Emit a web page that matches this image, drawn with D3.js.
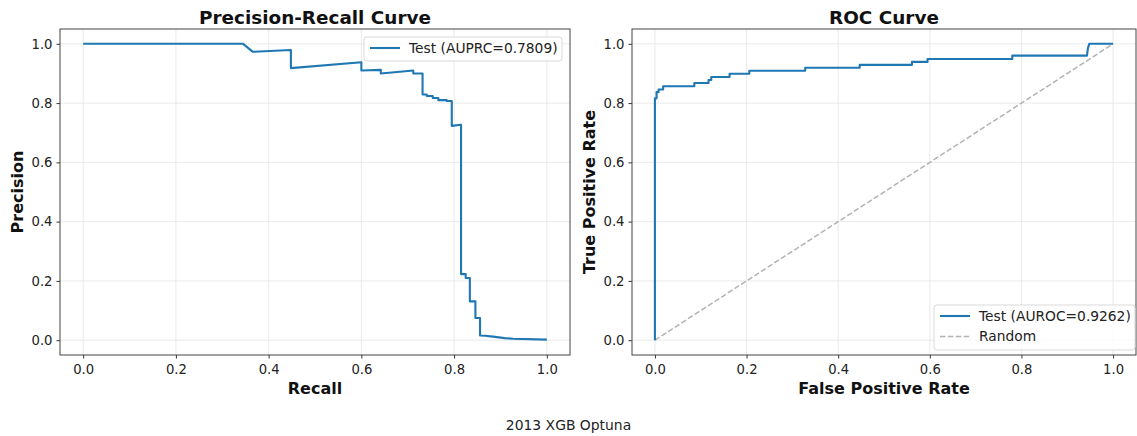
<!DOCTYPE html>
<html>
<head>
<meta charset="utf-8">
<script src="https://cdn.jsdelivr.net/npm/d3@7"></script>
<style>
  body { margin: 0; background: white; }
  svg { font-family: "DejaVu Sans", sans-serif; }
</style>
</head>
<body>
<div id="chart"></div>
<script>
// precision-recall curve points
const prRecall = [0, 0.345, 0.366, 0.448, 0.448, 0.600, 0.600, 0.642, 0.642, 0.712, 0.712, 0.732, 0.732,
  0.741, 0.741, 0.754, 0.754, 0.766, 0.766, 0.784, 0.784, 0.795, 0.795, 0.815, 0.815, 0.825, 0.825,
  0.834, 0.834, 0.846, 0.846, 0.856, 0.856, 0.867, 0.884, 0.909, 0.927, 1.0];
const prPrecision = [1.0, 1.0, 0.973, 0.979, 0.918, 0.938, 0.910, 0.912, 0.900, 0.910, 0.900, 0.900, 0.829,
  0.829, 0.824, 0.824, 0.817, 0.817, 0.810, 0.810, 0.807, 0.807, 0.723, 0.727, 0.223, 0.223, 0.210,
  0.210, 0.131, 0.131, 0.075, 0.075, 0.016, 0.015, 0.012, 0.007, 0.005, 0.002];

// ROC curve points
const rocFpr = [0, 0, 0.0036, 0.0036, 0.008, 0.008, 0.018, 0.018, 0.086, 0.086, 0.117, 0.117, 0.123, 0.123,
  0.163, 0.163, 0.206, 0.206, 0.328, 0.328, 0.447, 0.447, 0.561, 0.561, 0.595, 0.595, 0.780, 0.780,
  0.943, 0.945, 0.948, 1.0];
const rocTpr = [0, 0.816, 0.816, 0.837, 0.837, 0.846, 0.846, 0.857, 0.857, 0.868, 0.868, 0.878, 0.878, 0.888,
  0.888, 0.899, 0.899, 0.909, 0.909, 0.919, 0.919, 0.929, 0.929, 0.939, 0.939, 0.949, 0.949, 0.960,
  0.960, 0.985, 1.0, 1.0];

const ticks = [0, 0.2, 0.4, 0.6, 0.8, 1.0];
const auprc = "0.7809";
const auroc = "0.9262";
const suptitle = "2013 XGB Optuna";

const W = 1137, H = 436;
const blue = "#1f77b4";

const svg = d3.select("#chart").append("svg")
  .attr("width", W).attr("height", H);

function drawPanel(box, opts) {
  const x = d3.scaleLinear().domain([-0.05, 1.05]).range([box.left, box.right]);
  const y = d3.scaleLinear().domain([-0.05, 1.05]).range([box.bottom, box.top]);
  const g = svg.append("g");

  // grid
  g.selectAll(".gx").data(ticks).enter().append("line")
    .attr("x1", d => x(d)).attr("x2", d => x(d))
    .attr("y1", box.top).attr("y2", box.bottom)
    .attr("stroke", "#e5e5e5").attr("stroke-width", 0.8);
  g.selectAll(".gy").data(ticks).enter().append("line")
    .attr("y1", d => y(d)).attr("y2", d => y(d))
    .attr("x1", box.left).attr("x2", box.right)
    .attr("stroke", "#e5e5e5").attr("stroke-width", 0.8);

  // axes
  const xAxis = g.append("g")
    .attr("transform", `translate(0,${box.bottom})`)
    .call(d3.axisBottom(x).tickValues(ticks).tickFormat(d3.format(".1f")).tickSizeOuter(0).tickSize(3.5).tickPadding(4));
  const yAxis = g.append("g")
    .attr("transform", `translate(${box.left},0)`)
    .call(d3.axisLeft(y).tickValues(ticks).tickFormat(d3.format(".1f")).tickSizeOuter(0).tickSize(3.5).tickPadding(4));
  [xAxis, yAxis].forEach(a => {
    a.select(".domain").remove();
    a.selectAll("text").attr("font-size", 13.2).attr("fill", "#222")
      .attr("font-family", "DejaVu Sans, sans-serif");
    a.selectAll("line").attr("stroke", "#333");
  });
  xAxis.selectAll("text").attr("dy", "0.85em");

  // extra marks (diagonal)
  if (opts.diag) {
    g.append("path")
      .datum([[0, 0], [1, 1]])
      .attr("d", d3.line().x(d => x(d[0])).y(d => y(d[1])))
      .attr("fill", "none").attr("stroke", "#b3b3b3")
      .attr("stroke-width", 1.5).attr("stroke-dasharray", "5.5,2.4");
  }

  // curve
  g.append("path")
    .datum(d3.zip(opts.xs, opts.ys))
    .attr("d", d3.line().x(d => x(d[0])).y(d => y(d[1])))
    .attr("fill", "none").attr("stroke", blue).attr("stroke-width", 2.1)
    .attr("stroke-linejoin", "round");

  // frame
  g.append("rect")
    .attr("x", box.left).attr("y", box.top)
    .attr("width", box.right - box.left).attr("height", box.bottom - box.top)
    .attr("fill", "none").attr("stroke", "#444").attr("stroke-width", 1);

  // titles
  const cx = (box.left + box.right) / 2;
  g.append("text").attr("x", cx).attr("y", 23.5)
    .attr("text-anchor", "middle").attr("font-size", 18.4).attr("font-weight", "bold")
    .attr("fill", "#111").text(opts.title);
  g.append("text").attr("x", cx).attr("y", 394)
    .attr("text-anchor", "middle").attr("font-size", 16).attr("font-weight", "bold")
    .attr("fill", "#111").text(opts.xlabel);
  g.append("text")
    .attr("transform", `translate(${opts.ylabelX},${(box.top + box.bottom) / 2}) rotate(-90)`)
    .attr("text-anchor", "middle").attr("font-size", 16).attr("font-weight", "bold")
    .attr("fill", "#111").text(opts.ylabel);

  // legend
  const lg = g.append("g");
  const L = opts.legend;
  lg.append("rect").attr("x", L.x).attr("y", L.y).attr("width", L.w).attr("height", 3 + L.items.length * 21)
    .attr("rx", 3).attr("fill", "white").attr("fill-opacity", 0.8)
    .attr("stroke", "#d9d9d9").attr("stroke-width", 1);
  L.items.forEach((it, i) => {
    const yy = L.y + 11 + i * 20.5;
    lg.append("line").attr("x1", L.x + 6).attr("x2", L.x + 36)
      .attr("y1", yy).attr("y2", yy)
      .attr("stroke", it.color).attr("stroke-width", it.dash ? 1.5 : 2.1)
      .attr("stroke-dasharray", it.dash ? "5.5,2.4" : null);
    lg.append("text").attr("x", L.x + 45).attr("y", yy).attr("dy", "0.35em")
      .attr("font-size", 13.8).attr("fill", "#222").text(it.label);
  });
}

drawPanel({ left: 60, right: 570, top: 29, bottom: 355 }, {
  xs: prRecall, ys: prPrecision,
  title: "Precision-Recall Curve", xlabel: "Recall", ylabel: "Precision", ylabelX: 23,
  legend: { x: 364, y: 37, w: 198, items: [{ label: `Test (AUPRC=${auprc})`, color: blue }] }
});

drawPanel({ left: 632, right: 1136, top: 29, bottom: 355 }, {
  xs: rocFpr, ys: rocTpr, diag: true,
  title: "ROC Curve", xlabel: "False Positive Rate", ylabel: "True Positive Rate", ylabelX: 595,
  legend: { x: 934, y: 305, w: 201, items: [
    { label: `Test (AUROC=${auroc})`, color: blue },
    { label: "Random", color: "#b3b3b3", dash: true }
  ] }
});

svg.append("text").attr("x", W / 2).attr("y", 430)
  .attr("text-anchor", "middle").attr("font-size", 13.9).attr("fill", "#222").text(suptitle);
</script>
</body>
</html>
